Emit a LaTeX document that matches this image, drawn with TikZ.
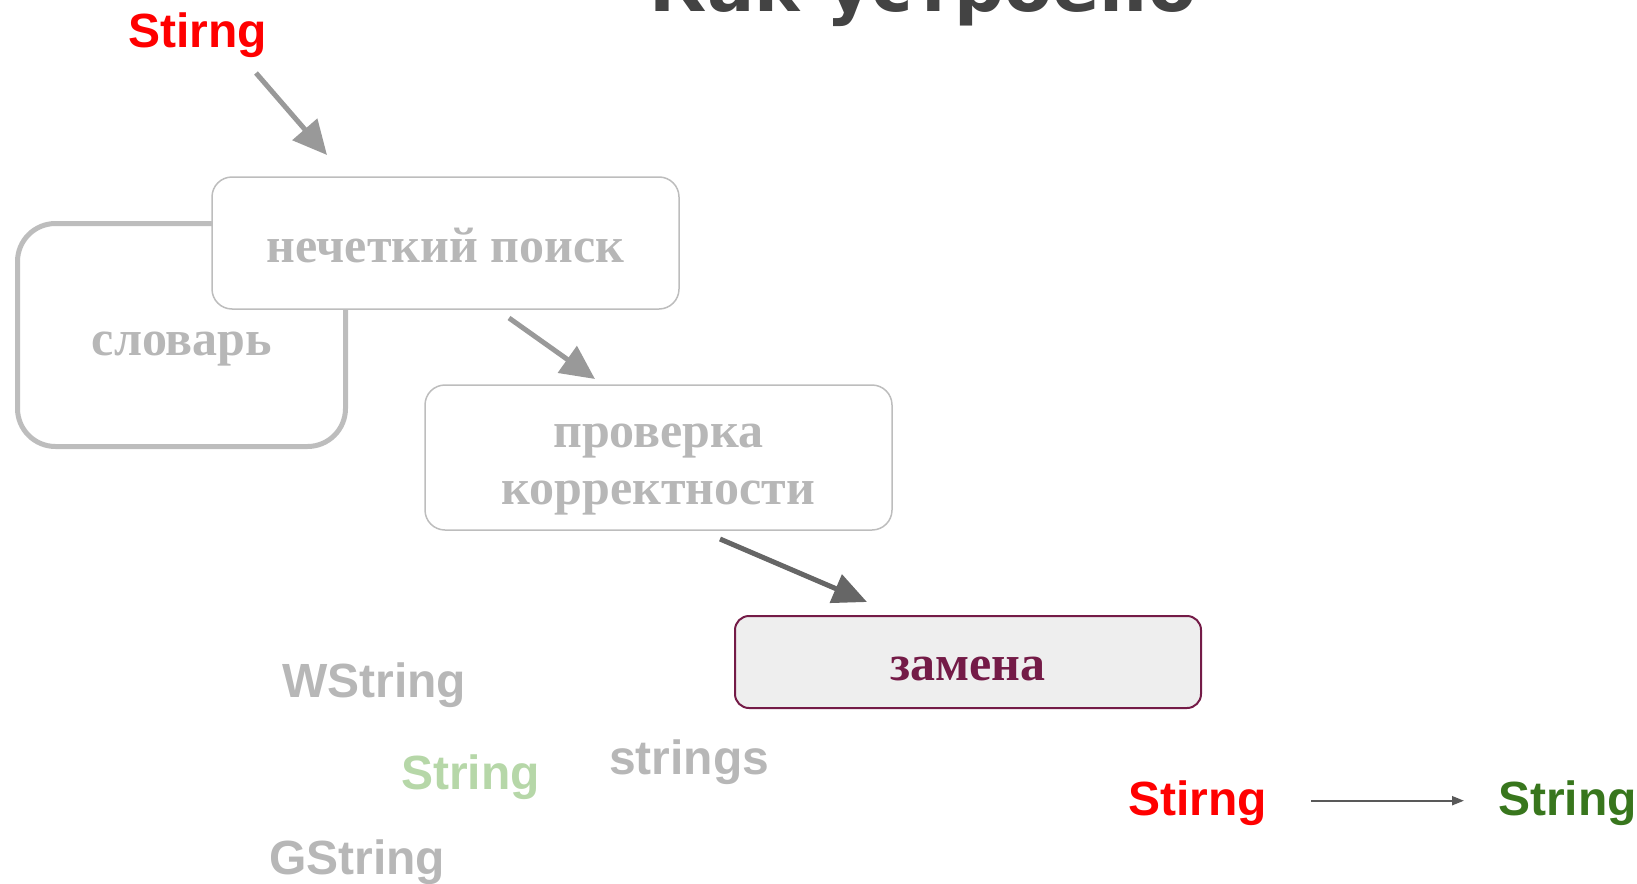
\documentclass[tikz,border=0pt]{standalone}
\usepackage{fontspec}
\setmainfont{Liberation Serif}
\newfontfamily\sansf{Liberation Sans}
\newfontfamily\titlef{DejaVu Sans}
\usetikzlibrary{arrows.meta}
\definecolor{lgrey}{HTML}{B7B7B7}
\definecolor{bordergrey}{HTML}{BDBDBD}
\definecolor{arrowgrey}{HTML}{999999}
\definecolor{darkarrow}{HTML}{666666}
\definecolor{thinarrow}{HTML}{595959}
\definecolor{plum}{HTML}{741B47}
\definecolor{boxfill}{HTML}{EEEEEE}
\definecolor{darkgreen}{HTML}{38761D}
\definecolor{lightgreen}{HTML}{B6D7A8}
\definecolor{titlegrey}{HTML}{434343}
\definecolor{brightred}{HTML}{FF0000}
\tikzset{
  softbox/.style={draw=bordergrey, line width=1.5pt, fill=white, rounded corners=20pt, inner sep=0pt},
  dictbox/.style={draw=bordergrey, line width=5pt, fill=white, rounded corners=38pt, inner sep=0pt},
  activebox/.style={draw=plum, line width=2pt, fill=boxfill, rounded corners=14pt, inner sep=0pt},
  boxtext/.style={font=\fontsize{50}{57}\selectfont\bfseries, text=lgrey, inner sep=0pt, anchor=base, align=center},
  word/.style={font=\sansf\fontsize{48}{56}\selectfont\bfseries, inner sep=0pt, anchor=base west},
  bigarrow/.style={line width=5pt, color=arrowgrey, -{Triangle[length=34pt,width=32pt]}},
  darkbigarrow/.style={line width=5pt, color=darkarrow, -{Triangle[length=34pt,width=30pt]}},
  thinarr/.style={line width=2pt, color=thinarrow, -{Triangle[length=12pt,width=9pt]}}
}
\begin{document}
\begin{tikzpicture}[x=1pt,y=-1pt]
\useasboundingbox (0,0) rectangle (1637,883);
% title (cut off at the top, as in the reference)
\node[font=\titlef\fontsize{70}{80}\selectfont\bfseries, text=titlegrey, inner sep=0pt, anchor=base] (title) at (923,12) {Как устроено};
% boxes
\node[dictbox, minimum width=328pt, minimum height=223pt] (dict) at (181.5,335) {};
\node[softbox, minimum width=467pt, minimum height=132pt] (fuzzy) at (445.5,243) {};
\node[softbox, minimum width=467pt, minimum height=145pt] (check) at (658.5,457.5) {};
\node[activebox, minimum width=466pt, minimum height=92pt] (repl) at (968,662) {};
% box texts
\node[boxtext] (dicttext) at (182,355) {словарь};
\node[boxtext] (fuzzytext) at (445.5,262) {нечеткий поиск};
\node[boxtext] (checktext) at (658.5,504) {проверка\\корректности};
\node[boxtext, text=plum] (repltext) at (968,680) {замена};
% words
\node[word, text=brightred] (stirng1) at (128,48) {Stirng};
\node[word, text=lgrey] (wstring) at (282,697) {WString};
\node[word, text=lightgreen] (string1) at (401,789) {String};
\node[word, text=lgrey] (strings) at (609,774) {strings};
\node[word, text=lgrey] (gstring) at (269,874) {GString};
\node[word, text=brightred] (stirng2) at (1128,815) {Stirng};
\node[word, text=darkgreen] (string2) at (1498,815) {String};
% arrows
\coordinate (a1s) at (256,73);
\coordinate (a1e) at (327,155);
\coordinate (a2s) at (509,318);
\coordinate (a2e) at (595,379);
\coordinate (a3s) at (720,539);
\coordinate (a3e) at (867,602);
\draw[bigarrow] (a1s) -- (a1e);
\draw[bigarrow] (a2s) -- (a2e);
\draw[darkbigarrow] (a3s) -- (a3e);
\draw[thinarr, shorten <=44pt, shorten >=34pt] ([yshift=2pt]stirng2.east) -- ([yshift=2pt]string2.west);
\end{tikzpicture}
\end{document}
